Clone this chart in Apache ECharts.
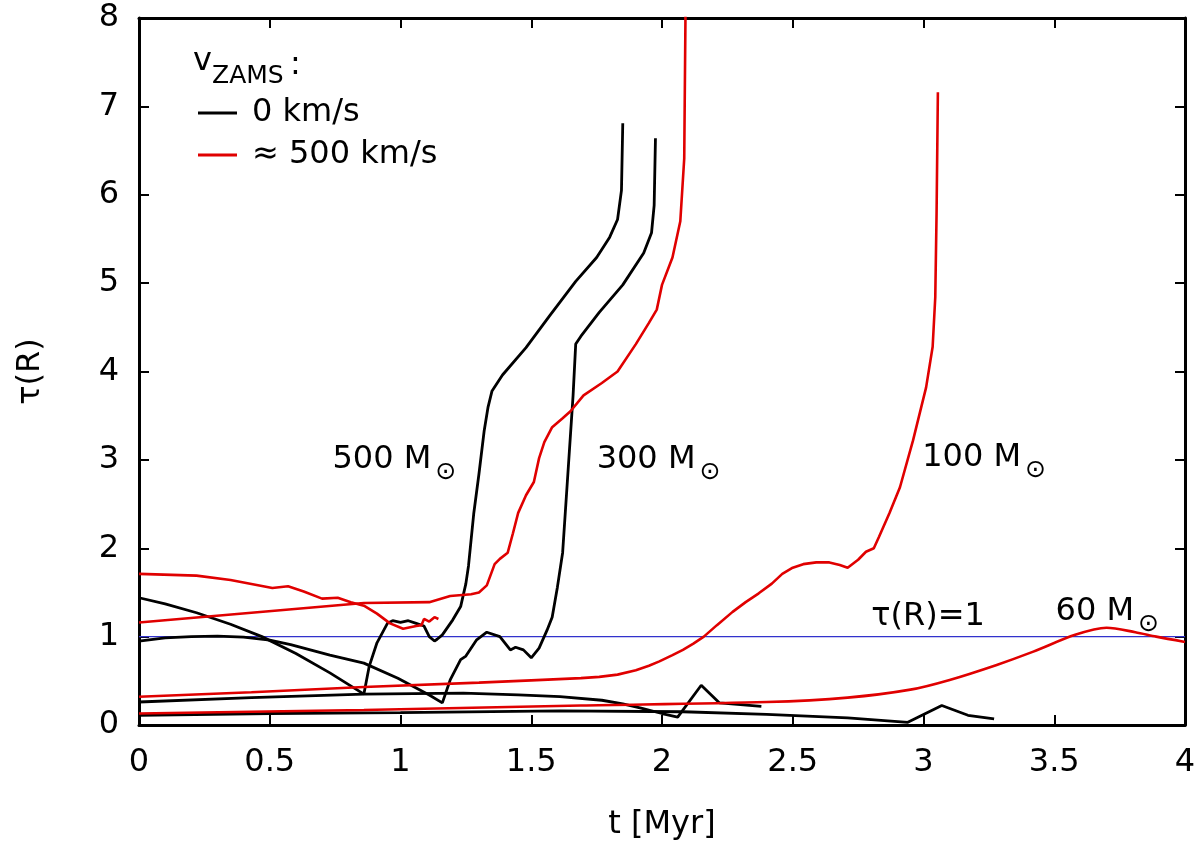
<!DOCTYPE html>
<html>
<head>
<meta charset="UTF-8">
<title>tau(R)</title>
<script src="https://cdn.jsdelivr.net/npm/echarts@6/dist/echarts.min.js"></script>
<style>
html, body { margin: 0; padding: 0; background: #fff; }
#chart { width: 1200px; height: 848px; }
</style>
</head>
<body>
<div id="chart"></div>
<script>
// [t (Myr), tau(R)]
var m500_v0 = [[0,1.44],[0.1,1.37],[0.22,1.27],[0.35,1.14],[0.47,1.0],[0.60,0.81],[0.73,0.59],[0.86,0.35],[0.88,0.66],
    [0.91,0.93],[0.95,1.15],[0.97,1.18],[1.0,1.16],[1.03,1.18],[1.06,1.15],[1.09,1.12],[1.11,1.0],[1.13,0.95],[1.14,0.97],
    [1.16,1.02],[1.20,1.19],[1.23,1.34],[1.25,1.60],[1.26,1.80],[1.28,2.39],[1.30,2.84],[1.32,3.33],[1.335,3.60],[1.35,3.78],
    [1.39,3.96],[1.48,4.27],[1.57,4.63],[1.67,5.02],[1.75,5.29],[1.80,5.52],[1.83,5.72],[1.845,6.05],[1.85,6.81]];
var m300_v0 = [[0,0.95],[0.1,0.985],[0.2,1.0],[0.3,1.005],[0.4,0.995],[0.5,0.96],[0.58,0.91],[0.73,0.79],[0.86,0.70],
    [0.99,0.53],[1.11,0.34],[1.16,0.25],[1.19,0.51],[1.23,0.74],[1.25,0.78],[1.29,0.96],[1.33,1.05],[1.38,1.0],[1.42,0.85],
    [1.44,0.88],[1.47,0.85],[1.50,0.76],[1.53,0.87],[1.56,1.07],[1.58,1.22],[1.60,1.56],[1.62,1.95],[1.64,2.84],[1.66,3.73],
    [1.67,4.31],[1.69,4.40],[1.76,4.67],[1.85,4.98],[1.93,5.34],[1.96,5.57],[1.97,5.88],[1.975,6.64]];
var m100_v0 = [[0,0.26],[0.43,0.31],[0.86,0.35],[1.24,0.36],[1.45,0.34],[1.61,0.32],[1.77,0.28],[1.85,0.24],[1.92,0.19],
    [2.0,0.13],[2.06,0.09],[2.15,0.45],[2.22,0.25],[2.30,0.23],[2.38,0.21]];
var m60_v0 = [[0,0.11],[0.5,0.13],[1.0,0.14],[1.61,0.16],[2.08,0.15],[2.40,0.12],[2.71,0.08],[2.94,0.03],[3.07,0.22],
    [3.17,0.11],[3.22,0.09],[3.27,0.07]];

var m500_v500 = [[0,1.71],[0.22,1.69],[0.35,1.64],[0.51,1.55],[0.57,1.57],[0.63,1.51],[0.70,1.43],[0.76,1.44],[0.81,1.39],
    [0.86,1.35],[0.91,1.26],[0.96,1.15],[1.01,1.09],[1.06,1.12],[1.08,1.13],[1.09,1.20],[1.11,1.17],[1.13,1.22],[1.145,1.20]];
var m300_v500 = [[0,1.16],[0.43,1.27],[0.86,1.38],[1.11,1.39],[1.19,1.46],[1.27,1.48],[1.30,1.50],[1.33,1.58],[1.36,1.82],
    [1.38,1.88],[1.41,1.95],[1.43,2.17],[1.45,2.40],[1.48,2.60],[1.51,2.75],[1.53,3.02],[1.55,3.20],[1.58,3.37],[1.62,3.47],
    [1.65,3.55],[1.70,3.73],[1.77,3.87],[1.83,4.0],[1.90,4.31],[1.95,4.55],[1.98,4.70],[2.0,4.98],[2.04,5.29],[2.07,5.70],
    [2.085,6.41],[2.09,8.1]];
var m100_v500 = [[0,0.32],[0.43,0.37],[0.86,0.43],[1.3,0.48],[1.5,0.505],[1.69,0.53],[1.76,0.545],[1.83,0.57],[1.90,0.62],
    [1.95,0.67],[1.99,0.72],[2.04,0.79],[2.08,0.85],[2.12,0.92],[2.16,1.0],[2.21,1.13],[2.27,1.28],[2.32,1.39],[2.37,1.49],
    [2.42,1.60],[2.46,1.71],[2.50,1.78],[2.54,1.82],[2.59,1.84],[2.64,1.84],[2.68,1.81],[2.71,1.78],[2.75,1.87],[2.78,1.96],
    [2.81,2.0],[2.83,2.13],[2.87,2.40],[2.91,2.69],[2.96,3.22],[3.01,3.82],[3.035,4.28],[3.045,4.84],[3.05,5.79],[3.055,7.16]];
var m60_v500 = [[0,0.13],[0.86,0.17],[1.69,0.22],[2.40,0.26],[2.71,0.31],[2.95,0.40],[3.10,0.51],[3.28,0.68],[3.42,0.83],
    [3.58,1.02],[3.70,1.10],[3.81,1.05],[3.89,1.0],[4.0,0.94]];

var tauOne = [[0,1],[4,1]];

var legendNames = ['0 km/s', '\u2248 500 km/s'];
// curve labels: text, t, tau (left edge, vertical centre)
var labelText = ['500 M', '300 M', '100 M', '60 M', '\u03c4(R)=1'];
var labelT = [0.74, 1.75, 2.995, 3.505, 2.80];
var labelTau = [3.0, 3.0, 3.03, 1.28, 1.23];
var labelSun = [true, true, true, true, false];

var FONT = 'DejaVu Sans';
var BLACK = '#000000';
var RED = '#e00000';

function curve(name, data, color, width, smooth) {
    return {
        type: 'line', name: name, data: data,
        symbol: 'none', showSymbol: false, animation: false,
        smooth: smooth || false,
        lineStyle: { color: color, width: width },
        itemStyle: { color: color }
    };
}

function axisCommon(extra) {
    var a = {
        type: 'value',
        axisLine: { show: true, onZero: false, lineStyle: { color: '#000', width: 3 } },
        axisTick: { show: true, inside: true, length: 10, lineStyle: { color: '#000', width: 2 } },
        splitLine: { show: false },
        axisLabel: { show: false }
    };
    for (var k in extra) a[k] = extra[k];
    return a;
}

var chart = echarts.init(document.getElementById('chart'));

var option = {
    animation: false,
    backgroundColor: '#fff',
    grid: { left: 139, right: 15, top: 18, bottom: 123 },
    legend: {
        left: 193, top: 89, orient: 'vertical',
        icon: 'rect', itemWidth: 39, itemHeight: 3, itemGap: 4,
        selectedMode: false,
        textStyle: { fontSize: 32, fontFamily: FONT, color: '#000', lineHeight: 38, padding: [0, 0, 0, 10] },
        data: legendNames
    },
    xAxis: [
        axisCommon({
            position: 'bottom', min: 0, max: 4, interval: 0.5,
            axisLabel: { show: true, fontSize: 32, fontFamily: FONT, color: '#000', margin: 22,
                showMinLabel: true, showMaxLabel: true },
            name: 't [Myr]', nameLocation: 'middle', nameGap: 84,
            nameTextStyle: { fontSize: 32, fontFamily: FONT, color: '#000' }
        }),
        axisCommon({ position: 'top', min: 0, max: 4, interval: 0.5 })
    ],
    yAxis: [
        axisCommon({
            position: 'left', min: 0, max: 8, interval: 1,
            axisLabel: { show: true, fontSize: 32, fontFamily: FONT, color: '#000', margin: 20,
                showMinLabel: true, showMaxLabel: true },
            name: '\u03c4(R)', nameLocation: 'middle', nameGap: 92, nameRotate: 90,
            nameTextStyle: { fontSize: 32, fontFamily: FONT, color: '#000' }
        }),
        axisCommon({ position: 'right', min: 0, max: 8, interval: 1 })
    ],
    series: [
        {
            type: 'line', name: '\u03c4(R)=1', data: tauOne, symbol: 'none', showSymbol: false,
            lineStyle: { color: '#3232cc', width: 1.2 }, itemStyle: { color: '#3232cc' }, z: 1
        },
        curve(legendNames[0], m500_v0, BLACK, 2.8),
        curve(legendNames[1], m500_v500, RED, 2.6),
        curve(legendNames[0], m300_v0, BLACK, 2.8),
        curve(legendNames[1], m300_v500, RED, 2.6),
        curve(legendNames[0], m100_v0, BLACK, 2.8),
        curve(legendNames[1], m100_v500, RED, 2.6),
        curve(legendNames[0], m60_v0, BLACK, 2.8),
        curve(legendNames[1], m60_v500, RED, 2.6, 0.3)
    ]
};
chart.setOption(option);

// text annotations placed in data coordinates
var ctx = document.createElement('canvas').getContext('2d');
ctx.font = '32px "' + FONT + '"';
var graphics = [
    { type: 'text', x: 193, y: 62, style: { text: 'v', fontSize: 32, fontFamily: FONT, fill: '#000', verticalAlign: 'middle' } },
    { type: 'text', x: 212, y: 76, style: { text: 'ZAMS', fontSize: 25, fontFamily: FONT, fill: '#000', verticalAlign: 'middle' } },
    { type: 'text', x: 290, y: 66, style: { text: ':', fontSize: 32, fontFamily: FONT, fill: '#000', verticalAlign: 'middle' } }
];
for (var i = 0; i < labelText.length; i++) {
    var p = chart.convertToPixel({ gridIndex: 0 }, [labelT[i], labelTau[i]]);
    graphics.push({ type: 'text', x: p[0], y: p[1],
        style: { text: labelText[i], fontSize: 32, fontFamily: FONT, fill: '#000', verticalAlign: 'middle' } });
    if (labelSun[i]) {
        var w = ctx.measureText(labelText[i]).width;
        graphics.push({ type: 'text', x: p[0] + w + 4, y: p[1] + 13,
            style: { text: '\u2299', fontSize: 25, fontFamily: FONT, fill: '#000', verticalAlign: 'middle' } });
    }
}
chart.setOption({ graphic: graphics });
</script>
</body>
</html>
